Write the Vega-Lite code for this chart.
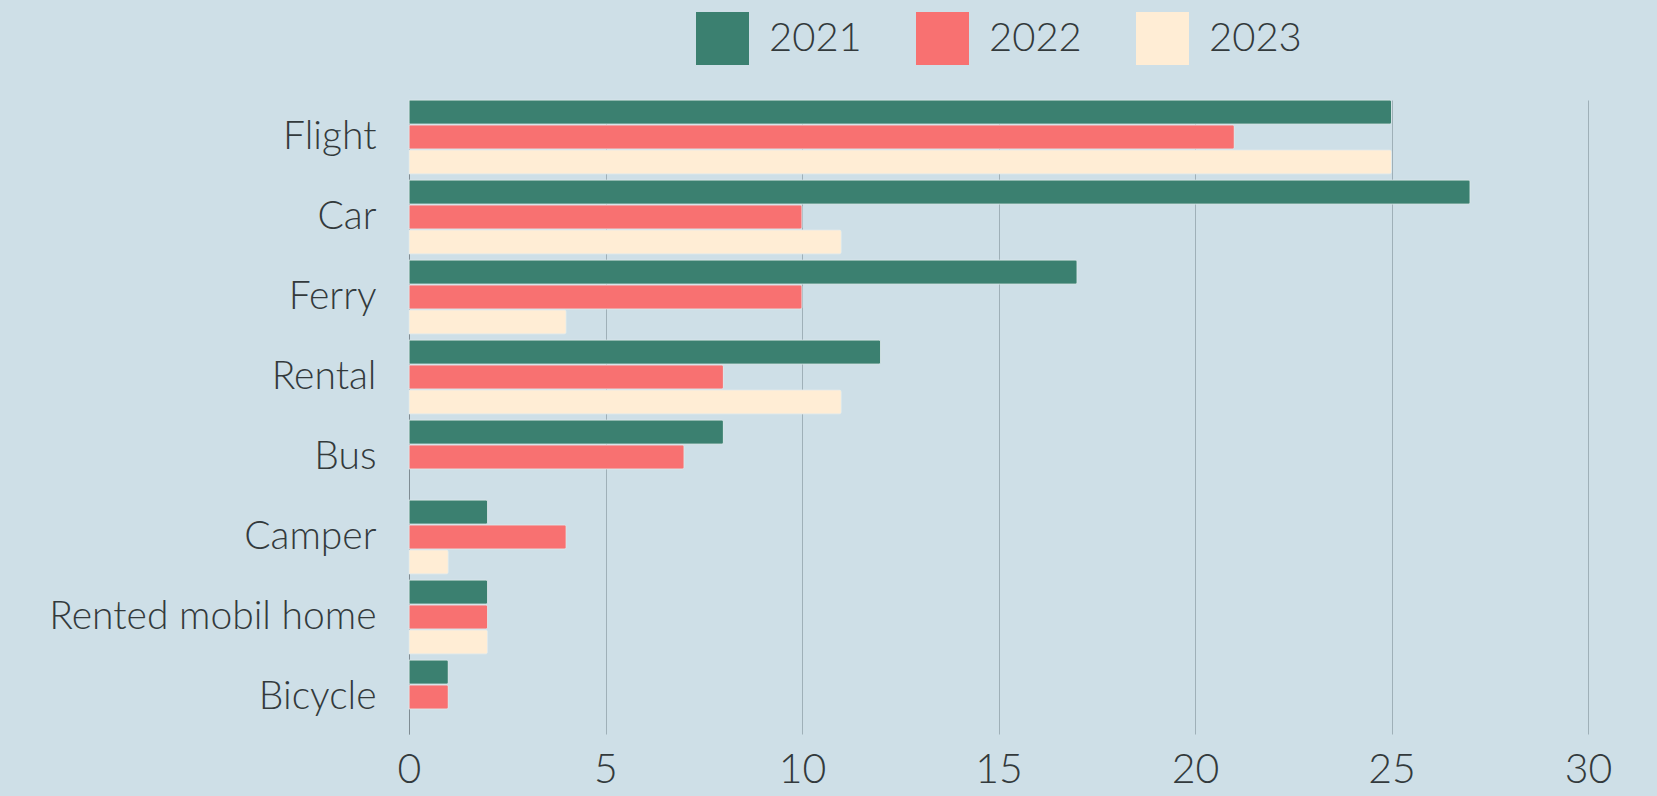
{
  "$schema": "https://vega.github.io/schema/vega-lite/v6.json",
  "autosize": {"type": "none"},
  "padding": {"left": 409, "top": 100, "right": 69, "bottom": 62},
  "width": 1179,
  "height": 634,
  "background": "#cedfe7",
  "data": {
    "values": [
      {"mode": "Flight", "year": "2021", "value": 25},
      {"mode": "Flight", "year": "2022", "value": 21},
      {"mode": "Flight", "year": "2023", "value": 25},
      {"mode": "Car", "year": "2021", "value": 27},
      {"mode": "Car", "year": "2022", "value": 10},
      {"mode": "Car", "year": "2023", "value": 11},
      {"mode": "Ferry", "year": "2021", "value": 17},
      {"mode": "Ferry", "year": "2022", "value": 10},
      {"mode": "Ferry", "year": "2023", "value": 4},
      {"mode": "Rental", "year": "2021", "value": 12},
      {"mode": "Rental", "year": "2022", "value": 8},
      {"mode": "Rental", "year": "2023", "value": 11},
      {"mode": "Bus", "year": "2021", "value": 8},
      {"mode": "Bus", "year": "2022", "value": 7},
      {"mode": "Camper", "year": "2021", "value": 2},
      {"mode": "Camper", "year": "2022", "value": 4},
      {"mode": "Camper", "year": "2023", "value": 1},
      {"mode": "Rented mobil home", "year": "2021", "value": 2},
      {"mode": "Rented mobil home", "year": "2022", "value": 2},
      {"mode": "Rented mobil home", "year": "2023", "value": 2},
      {"mode": "Bicycle", "year": "2021", "value": 1},
      {"mode": "Bicycle", "year": "2022", "value": 1}
    ]
  },
  "mark": {"type": "bar", "cornerRadiusEnd": 2, "stroke": "#e3ecef", "strokeWidth": 0.6},
  "encoding": {
    "y": {
      "field": "mode",
      "type": "nominal",
      "sort": ["Flight", "Car", "Ferry", "Rental", "Bus", "Camper", "Rented mobil home", "Bicycle"],
      "scale": {"paddingInner": 0.075, "paddingOuter": 0},
      "axis": {
        "title": null,
        "domain": true,
        "domainColor": "#7f8c93",
        "domainWidth": 1,
        "ticks": false,
        "labelPadding": 33,
        "labelLimit": 420,
        "labelFont": "Lato",
        "labelFontWeight": 300,
        "labelFontSize": 39,
        "labelColor": "#333a3c"
      }
    },
    "yOffset": {
      "field": "year",
      "type": "nominal",
      "sort": ["2021", "2022", "2023"],
      "scale": {"paddingInner": 0.03, "paddingOuter": 0}
    },
    "x": {
      "field": "value",
      "type": "quantitative",
      "scale": {"domain": [0, 30], "nice": false},
      "axis": {
        "title": null,
        "values": [0, 5, 10, 15, 20, 25, 30],
        "domain": false,
        "ticks": false,
        "grid": true,
        "gridColor": "#9fb0b8",
        "gridWidth": 1,
        "labelFlush": false,
        "labelPadding": 16,
        "labelFont": "Lato",
        "labelFontWeight": 300,
        "labelFontSize": 41,
        "labelColor": "#333a3c"
      }
    },
    "color": {
      "field": "year",
      "type": "nominal",
      "scale": {"domain": ["2021", "2022", "2023"], "range": ["#3b8070", "#f87171", "#ffedd5"]},
      "legend": {
        "title": null,
        "orient": "top",
        "direction": "horizontal",
        "symbolType": "square",
        "symbolSize": 2809,
        "symbolStrokeWidth": 0,
        "symbolOpacity": 1,
        "labelFont": "Lato",
        "labelFontWeight": 300,
        "labelFontSize": 40,
        "labelColor": "#333a3c",
        "labelOffset": 20,
        "columnPadding": 54,
        "offset": 34
      }
    }
  },
  "config": {
    "view": {"stroke": null},
    "legend": {"layout": {"top": {"anchor": "middle"}}}
  }
}
